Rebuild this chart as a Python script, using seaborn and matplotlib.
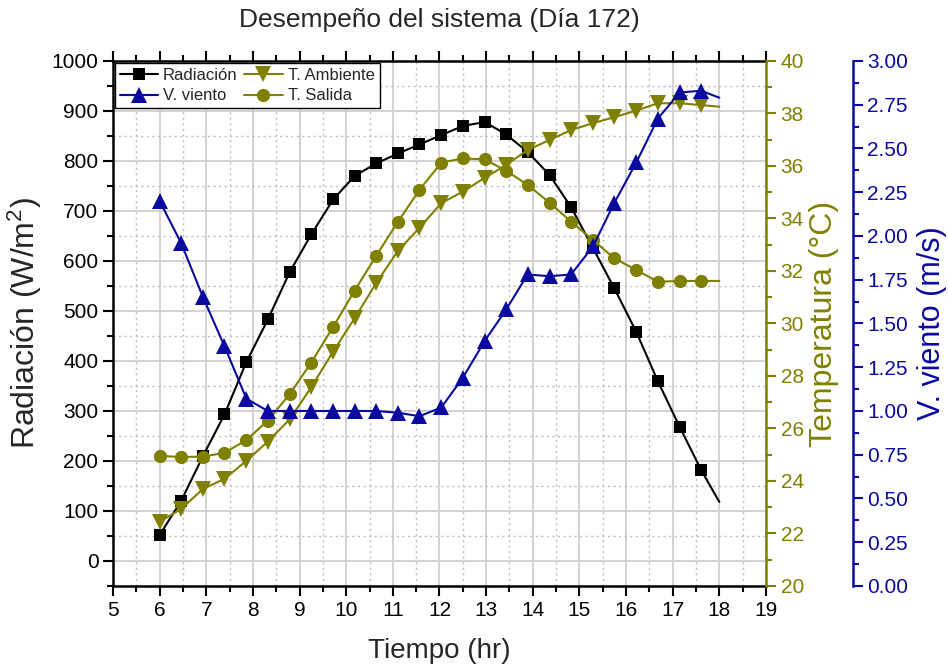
import matplotlib
matplotlib.use('Agg')
import matplotlib.pyplot as plt
from matplotlib.ticker import MultipleLocator
import seaborn as sns
import numpy as np


# tiempo (hr) de cada medición
tiempo = [6.00, 6.46, 6.93, 7.39, 7.86, 8.32, 8.79, 9.25, 9.72, 10.18, 10.64,
          11.11, 11.57, 12.04, 12.50, 12.97, 13.43, 13.89, 14.36, 14.82,
          15.29, 15.75, 16.22, 16.68, 17.15, 17.61, 18.00]

radiacion = [52, 120, 210, 293, 398, 483, 578, 653, 723, 770, 795, 815, 833,
             852, 870, 878, 853, 818, 772, 708, 626, 545, 458, 360, 268, 182, 118]

viento = [2.20, 1.96, 1.65, 1.37, 1.07, 1.00, 1.00, 1.00, 1.00, 1.00, 1.00,
          0.99, 0.97, 1.02, 1.19, 1.40, 1.58, 1.78, 1.77, 1.78, 1.94, 2.19,
          2.42, 2.67, 2.82, 2.83, 2.79]

t_ambiente = [22.45, 22.93, 23.70, 24.08, 24.77, 25.50, 26.35, 27.57, 28.93,
              30.20, 31.53, 32.77, 33.64, 34.59, 35.02, 35.55, 36.04, 36.61,
              36.99, 37.37, 37.63, 37.86, 38.11, 38.39, 38.39, 38.32, 38.26]

t_salida = [24.96, 24.91, 24.93, 25.07, 25.56, 26.30, 27.31, 28.51, 29.87,
            31.25, 32.57, 33.88, 35.09, 36.13, 36.29, 36.25, 35.82, 35.28,
            34.60, 33.88, 33.18, 32.48, 32.04, 31.59, 31.62, 31.62, 31.62]

NEGRO = 'black'
AZUL = '#0a0a9e'
OLIVA = '#808000'

sns.set_style('ticks')
plt.rcParams['font.family'] = ['Liberation Sans', 'DejaVu Sans']
plt.rcParams['mathtext.fontset'] = 'custom'
plt.rcParams['mathtext.rm'] = 'Liberation Sans'
plt.rcParams['mathtext.it'] = 'Liberation Sans'

fig = plt.figure(figsize=(9.48, 6.68), dpi=100)
ax = fig.add_axes([0.1192, 0.1228, 0.6888, 0.7859])
ax2 = ax.twinx()
ax3 = ax.twinx()

# el último punto de cada serie va sin marcador
marcas = list(range(len(tiempo) - 1))

sns.lineplot(x=tiempo, y=radiacion, ax=ax, color=NEGRO, lw=1.5, marker='s',
             markersize=9, markeredgewidth=0, markevery=marcas)
sns.lineplot(x=tiempo, y=t_ambiente, ax=ax2, color=OLIVA, lw=1.5, marker='v',
             markersize=11, markeredgewidth=0, markevery=marcas)
sns.lineplot(x=tiempo, y=t_salida, ax=ax2, color=OLIVA, lw=1.5, marker='o',
             markersize=9.5, markeredgewidth=0, markevery=marcas)
sns.lineplot(x=tiempo, y=viento, ax=ax3, color=AZUL, lw=1.5, marker='^',
             markersize=11, markeredgewidth=0, markevery=marcas)

l_rad = ax.lines[0]
l_amb, l_sal = ax2.lines[0], ax2.lines[1]
l_vie = ax3.lines[0]

# eje principal
ax.set_xlim(5, 19)
ax.set_ylim(-50, 1000)
ax.xaxis.set_major_locator(MultipleLocator(1))
ax.xaxis.set_minor_locator(MultipleLocator(0.5))
ax.set_yticks(np.arange(0, 1001, 100))
ax.yaxis.set_minor_locator(MultipleLocator(50))
ax.grid(which='major', color='#cfcfcf', lw=1.3, ls='-')
ax.grid(which='minor', color='#bdbdbd', lw=1.0, ls=(0, (1.5, 2.5)))
ax.set_axisbelow(True)
ax.tick_params(which='both', direction='out', top=True, right=False,
               labelsize=15, width=1.5, colors='black')
ax.tick_params(which='major', length=7)
ax.tick_params(which='minor', length=4)
for s in ['left', 'bottom', 'top']:
    ax.spines[s].set_linewidth(1.8)
    ax.spines[s].set_color('black')
ax.spines['right'].set_visible(False)
ax.set_xlabel('Tiempo (hr)', fontsize=20)
ax.set_ylabel('Radiación (W/m$^2$)', fontsize=23)
ax.xaxis.set_label_coords(0.5, -0.1)
ax.yaxis.set_label_coords(-0.106, 0.5)

# eje de temperatura
ax2.set_ylim(20, 40)
ax2.yaxis.set_major_locator(MultipleLocator(2))
ax2.yaxis.set_minor_locator(MultipleLocator(1))
ax2.tick_params(which='both', direction='out', labelsize=15, width=1.5,
                colors=OLIVA)
ax2.tick_params(which='major', length=7)
ax2.tick_params(which='minor', length=4)
for s in ['left', 'bottom', 'top']:
    ax2.spines[s].set_visible(False)
ax2.spines['right'].set_color(OLIVA)
ax2.spines['right'].set_linewidth(1.8)
ax2.set_ylabel('Temperatura (°C)', fontsize=23, color=OLIVA)
ax2.yaxis.set_label_coords(1.066, 0.5)

# eje de viento
ax3.set_ylim(0, 3)
ax3.set_yticks(np.arange(0, 3.01, 0.25))
ax3.yaxis.set_major_formatter(matplotlib.ticker.FormatStrFormatter('%.2f'))
ax3.yaxis.set_minor_locator(MultipleLocator(0.125))
ax3.spines['right'].set_position(('axes', 1.133))
ax3.tick_params(which='both', direction='out', labelsize=15, width=1.5,
                colors=AZUL)
ax3.tick_params(which='major', length=7)
ax3.tick_params(which='minor', length=4)
for s in ['left', 'bottom', 'top']:
    ax3.spines[s].set_visible(False)
ax3.spines['right'].set_color(AZUL)
ax3.spines['right'].set_linewidth(1.8)
ax3.set_ylabel('V. viento (m/s)', fontsize=22, color=AZUL)
ax3.yaxis.set_label_coords(1.231, 0.5)

leg = ax3.legend([l_rad, l_vie, l_amb, l_sal],
                 ['Radiación', 'V. viento', 'T. Ambiente', 'T. Salida'],
                 ncol=2, loc='upper left', bbox_to_anchor=(0.0, 1.0),
                 borderaxespad=0.1, fontsize=12, frameon=True,
                 fancybox=False, edgecolor='black', framealpha=1,
                 handlelength=2.3, handletextpad=0.3, columnspacing=0.4,
                 labelspacing=0.35, borderpad=0.3)
leg.get_frame().set_linewidth(1.0)

fig.text(0.4636, 1 - 20 / 668, 'Desempeño del sistema (Día 172)',
         ha='center', va='center', fontsize=19)

fig.savefig('out.png', dpi=100)
